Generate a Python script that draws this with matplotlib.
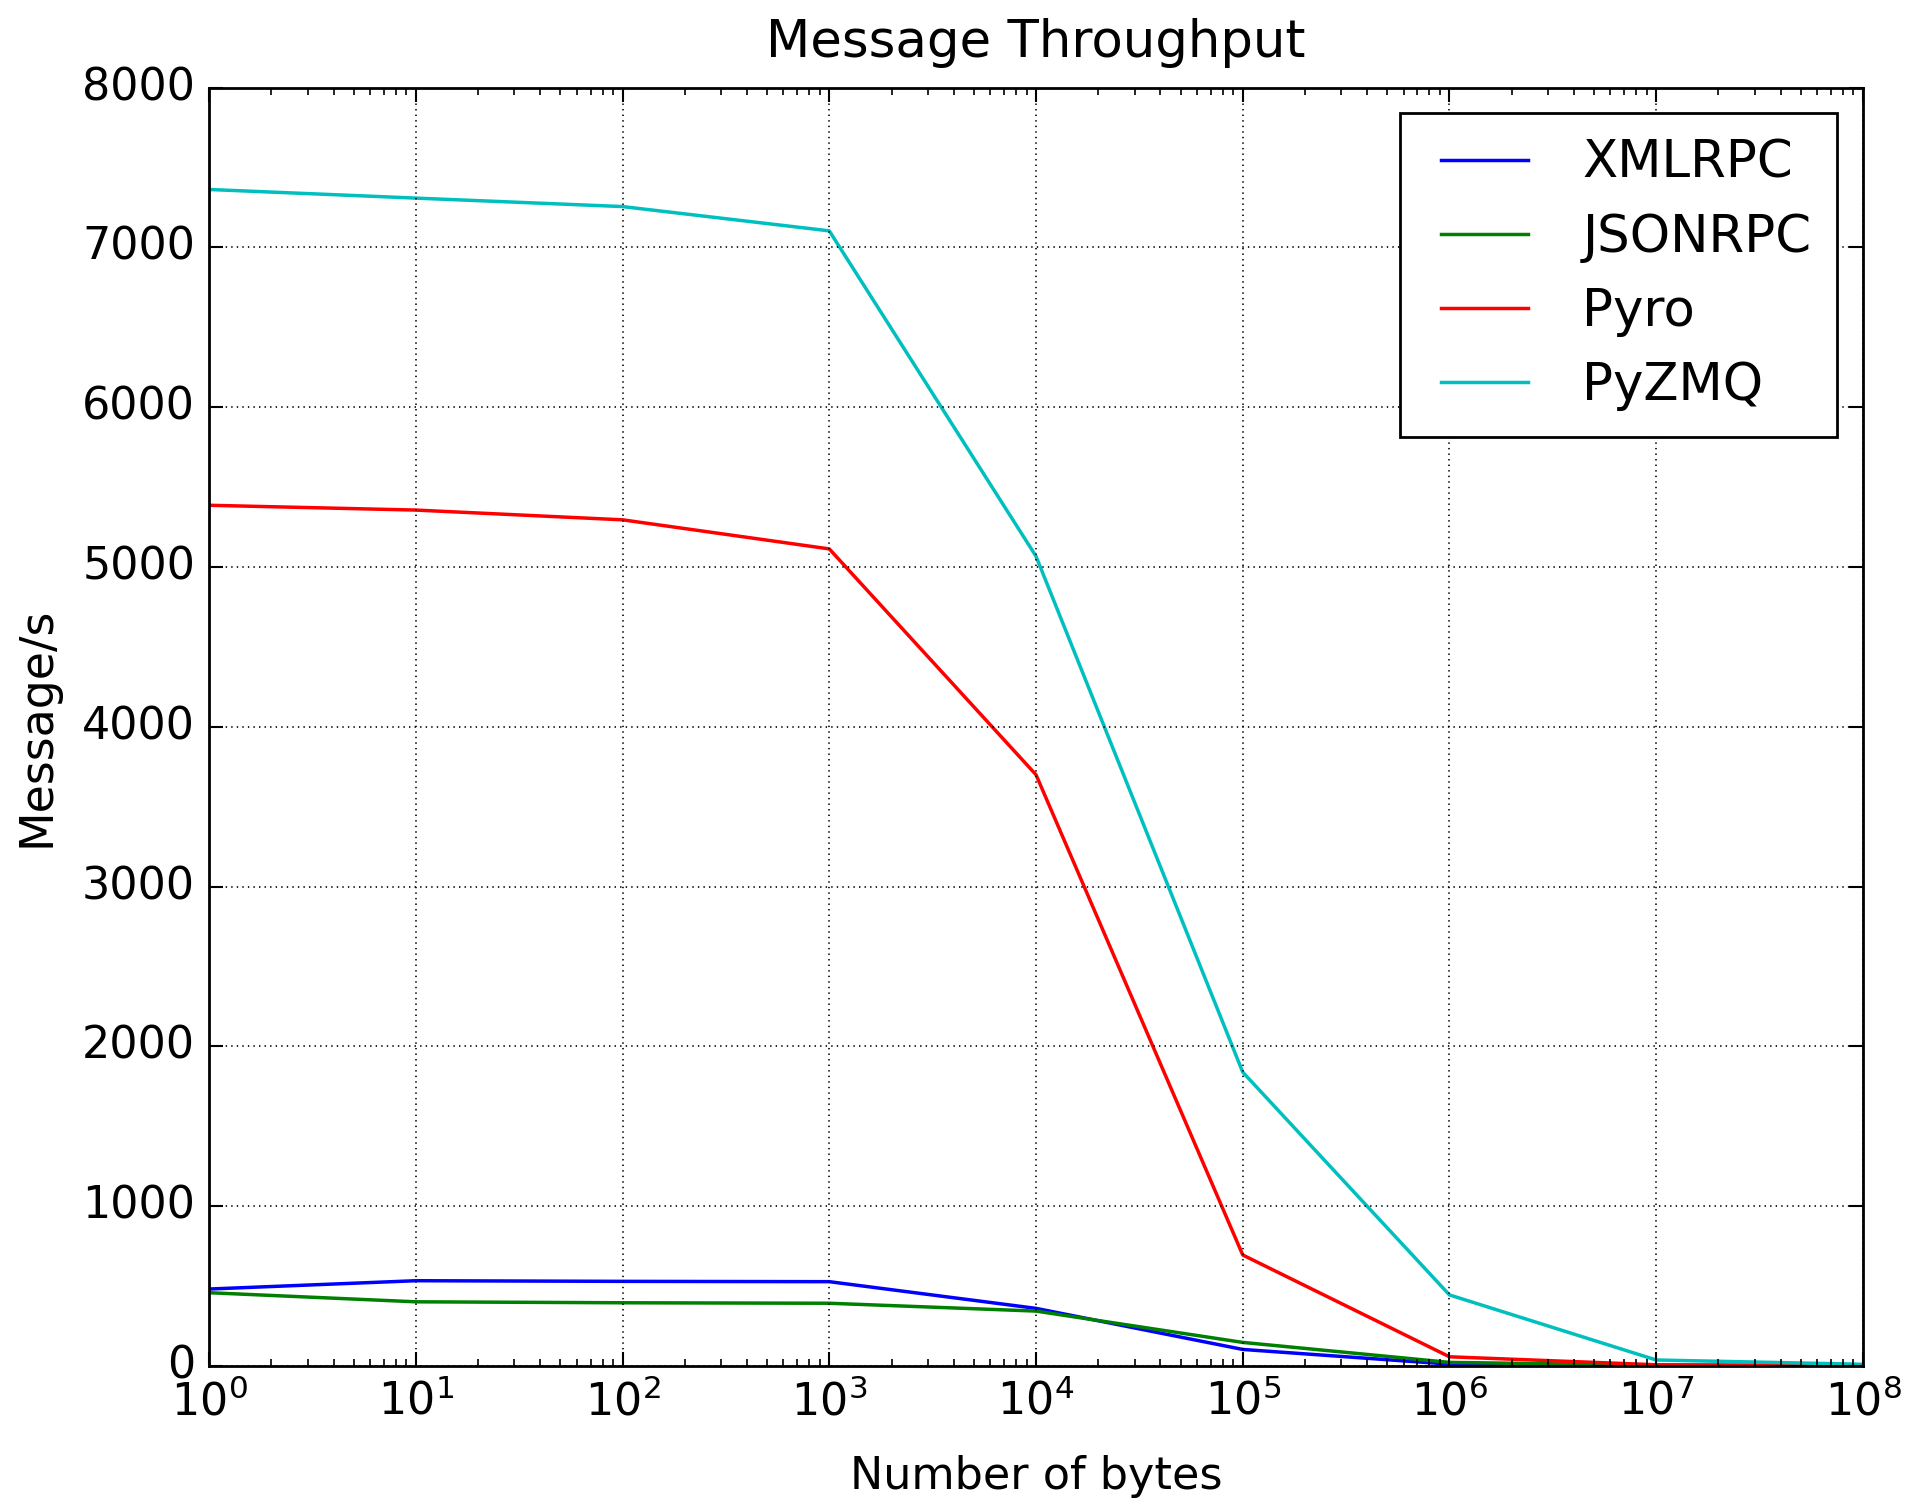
import matplotlib
matplotlib.use('Agg')
from matplotlib import pyplot as plt

# dados
num_bytes = [1, 10, 100, 1000, 10000, 100000, 1000000, 10000000, 100000000]
xmlrpc = [482, 534, 530, 528, 361, 104, 12, 3, 1]
jsonrpc = [459, 402, 396, 393, 344, 148, 23, 5, 2]
pyro = [5386, 5356, 5295, 5113, 3700, 695, 58, 8, 3]
pyzmq = [7362, 7308, 7255, 7103, 5067, 1839, 445, 38, 11]
labels = ['XMLRPC', 'JSONRPC', 'Pyro', 'PyZMQ']

plt.style.use('classic')

fig = plt.figure(figsize=(19.06, 15.01), dpi=100)
ax = fig.add_axes([0.1097, 0.0899, 0.8677, 0.8518])

ax.plot(num_bytes, xmlrpc, 'b', lw=2.5, label=labels[0])
ax.plot(num_bytes, jsonrpc, 'g', lw=2.5, label=labels[1])
ax.plot(num_bytes, pyro, 'r', lw=2.5, label=labels[2])
ax.plot(num_bytes, pyzmq, 'c', lw=2.5, label=labels[3])

ax.set_xscale('log')
ax.set_xlim(1, 1e8)
ax.set_ylim(0, 8000)
ax.grid(True, color='k', linestyle=':', lw=1.2)

ax.tick_params(labelsize=32, width=1.5, length=10, pad=10)
ax.tick_params(which='minor', width=1.2, length=5)
for s in ax.spines.values():
    s.set_linewidth(2)

ax.set_title('Message Throughput', fontsize=37, pad=22)
ax.set_xlabel('Number of bytes', fontsize=32, labelpad=22)
ax.set_ylabel('Message/s', fontsize=33, labelpad=16)

leg = ax.legend(loc='upper right', fontsize=37, handlelength=2.3,
                handletextpad=0.75, labelspacing=0.47, borderpad=0.5,
                borderaxespad=0.5, fancybox=False)
leg.get_frame().set_linewidth(2)

fig.savefig('out.png', dpi=100)
